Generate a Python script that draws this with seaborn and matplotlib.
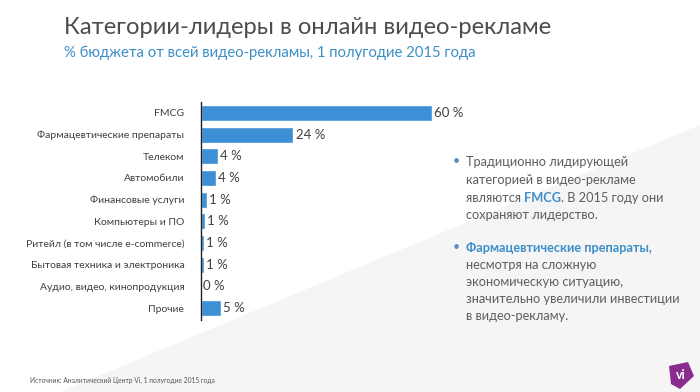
import matplotlib
matplotlib.use("Agg")
import matplotlib.pyplot as plt
import seaborn as sns
import pandas as pd
from matplotlib.patches import Polygon

categories = ["FMCG", "Фармацевтические препараты", "Телеком", "Автомобили",
              "Финансовые услуги", "Компьютеры и ПО", "Ритейл (в том числе e-commerce)",
              "Бытовая техника и электроника", "Аудио, видео, кинопродукция", "Прочие"]
values = [60, 24, 4.4, 3.9, 1.5, 1.0, 0.8, 0.8, 0.0, 5.2]
value_labels = ["60 %", "24 %", "4 %", "4 %", "1 %", "1 %", "1 %", "1 %", "0 %", "5 %"]

title = "Категории-лидеры в онлайн видео-рекламе"
subtitle = "% бюджета от всей видео-рекламы, 1 полугодие 2015 года"
source = "Источник: Аналитический Центр Vi, 1 полугодие 2015 года"

sns.set_theme(style="white")
plt.rcParams['font.family'] = ['Lato', 'Open Sans', 'DejaVu Sans']

W, H = 700, 392
fig = plt.figure(figsize=(7, 3.92), dpi=100)
fig.patch.set_facecolor("white")

bg = Polygon([[60 / W, 0], [1, 1 - 125 / H], [1, 0]], closed=True,
             transform=fig.transFigure, facecolor="#f5f5f6", edgecolor="none", zorder=0)
fig.patches.append(bg)

ax = fig.add_axes([201 / W, 1 - 320 / H, 260 / W, 218 / H])
ax.set_facecolor("none")
df = pd.DataFrame({"cat": categories, "val": values})
sns.barplot(data=df, y="cat", x="val", orient="h", color="#3d8fd6", saturation=1,
            width=0.74, ax=ax)
ax.set_xlim(0, 67.5)
ax.set_ylim(len(categories) - 0.5 + 0.05, -0.5)
ax.set_xlabel("")
ax.set_ylabel("")
ax.set_xticks([])
for s in ["top", "right", "bottom"]:
    ax.spines[s].set_visible(False)
ax.spines["left"].set_color("#222222")
ax.spines["left"].set_linewidth(1.0)
ax.tick_params(axis="y", length=0, pad=12, labelsize=7.5, labelcolor="#404040")
ax.bar_label(ax.containers[0], labels=value_labels, padding=1.5, fontsize=9.5, color="#404040")

fig.text(64 / W, 1 - 27 / H, title, fontsize=17.1, color="#4d4d4d", va="center", ha="left")
fig.text(64 / W, 1 - 53 / H, subtitle, fontsize=10.75, color="#3d8fc8", va="center", ha="left")
fig.text(30 / W, 1 - 380 / H, source, fontsize=4.8, color="#555555", va="center", ha="left")

renderer = fig.canvas.get_renderer()
gray = "#5e5e5e"
blue = "#3d8fc8"
fs = 9.15

def line(x_px, y_px, parts):
    x = x_px / W
    for txt, col, wt in parts:
        t = fig.text(x, 1 - y_px / H, txt, fontsize=fs, color=col, fontweight=wt,
                     va="center", ha="left")
        bb = t.get_window_extent(renderer=renderer)
        x = bb.x1 / W

xt = 466
fig.text(453 / W, 1 - 161 / H, "•", fontsize=9, color="#5a8fbf", va="center", ha="left")
line(xt, 162, [("Традиционно лидирующей", gray, "normal")])
line(xt, 180, [("категорией в видео-рекламе", gray, "normal")])
line(xt, 198, [("являются ", gray, "normal"), ("FMCG", blue, "bold"),
               (". В 2015 году они", gray, "normal")])
line(xt, 215, [("сохраняют лидерство.", gray, "normal")])

fig.text(453 / W, 1 - 247 / H, "•", fontsize=9, color="#5a8fbf", va="center", ha="left")
line(xt, 248, [("Фармацевтические препараты,", blue, "bold")])
line(xt, 265, [("несмотря на сложную", gray, "normal")])
line(xt, 282, [("экономическую ситуацию,", gray, "normal")])
line(xt, 299, [("значительно увеличили инвестиции", gray, "normal")])
line(xt, 316, [("в видео-рекламу.", gray, "normal")])

logo = Polygon([[669 / W, 1 - 366 / H], [688 / W, 1 - 362 / H], [694 / W, 1 - 376 / H],
                [680 / W, 1 - 389 / H], [671 / W, 1 - 384 / H]], closed=True,
               transform=fig.transFigure, facecolor="#8a2b8e", edgecolor="none", zorder=2)
fig.patches.append(logo)
fig.text(681 / W, 1 - 375 / H, "vi", fontsize=9, color="white", fontweight="bold",
         va="center", ha="center", zorder=3)

fig.savefig("out.png", dpi=100, facecolor=fig.get_facecolor())
